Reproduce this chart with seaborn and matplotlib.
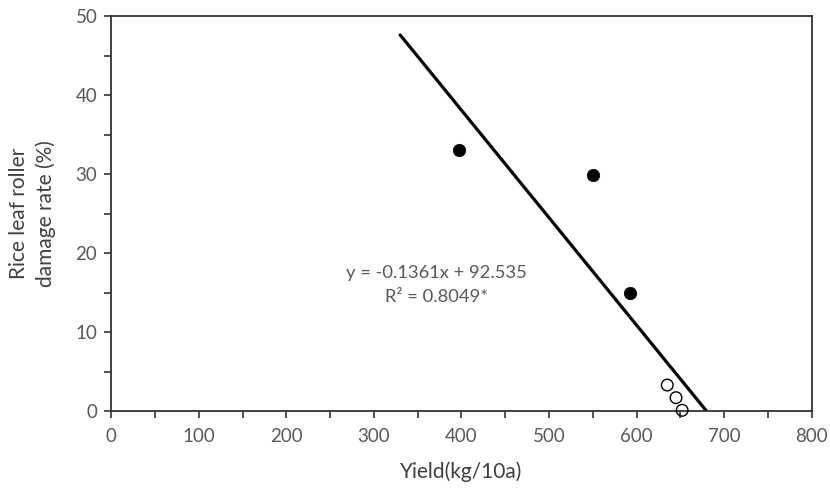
import matplotlib
matplotlib.use("Agg")
import matplotlib.pyplot as plt
from matplotlib.ticker import MultipleLocator
import numpy as np
import pandas as pd
import seaborn as sns

# values
yield_filled = [397, 550, 593]
damage_filled = [33.1, 29.9, 15.0]
yield_open = [635, 645, 652]
damage_open = [3.3, 1.7, 0.1]
fit_slope = -0.1361
fit_intercept = 92.535
fit_x_range = [330, 680]
equation = "y = -0.1361x + 92.535\nR² = 0.8049*"

sns.set_style("white")
plt.rcParams["font.family"] = ["Lato", "DejaVu Sans"]
GREY = "#595959"

fig, ax = plt.subplots(figsize=(8.3, 4.9), dpi=100)
fig.subplots_adjust(left=0.134, right=0.978, top=0.967, bottom=0.161)

fit_x = np.array(fit_x_range, dtype=float)
fit = pd.DataFrame({"x": fit_x, "y": fit_slope * fit_x + fit_intercept})
sns.lineplot(data=fit, x="x", y="y", ax=ax, color="black", linewidth=2.3, zorder=2)

filled = pd.DataFrame({"x": yield_filled, "y": damage_filled})
sns.scatterplot(data=filled, x="x", y="y", ax=ax, color="black", s=80,
                edgecolor="black", linewidth=0.5, zorder=3)
opened = pd.DataFrame({"x": yield_open, "y": damage_open})
sns.scatterplot(data=opened, x="x", y="y", ax=ax, facecolor="none", s=70,
                edgecolor="black", linewidth=1.0, zorder=3, clip_on=False)

ax.text(371, 16.0, equation, ha="center", va="center", fontsize=13.2,
        color=GREY, linespacing=1.6)

ax.set_xlim(0, 800)
ax.set_ylim(0, 50)
ax.xaxis.set_major_locator(MultipleLocator(100))
ax.xaxis.set_minor_locator(MultipleLocator(50))
ax.yaxis.set_major_locator(MultipleLocator(10))
ax.yaxis.set_minor_locator(MultipleLocator(5))
ax.tick_params(axis="both", which="both", direction="out", color="#333333",
               width=1.2, labelsize=13.5, labelcolor=GREY, bottom=True, left=True)
ax.tick_params(which="major", length=5)
ax.tick_params(which="minor", length=5)
ax.tick_params(axis="x", pad=7)
ax.tick_params(axis="y", pad=5)
for sp in ax.spines.values():
    sp.set_color("#333333")
    sp.set_linewidth(1.3)

ax.set_xlabel("Yield(kg/10a)", fontsize=15, color="#404040", labelpad=12)
ax.set_ylabel("Rice leaf roller\ndamage rate (%)", fontsize=15, color="#404040",
              labelpad=14, linespacing=1.4)

fig.savefig("out.png", dpi=100)
